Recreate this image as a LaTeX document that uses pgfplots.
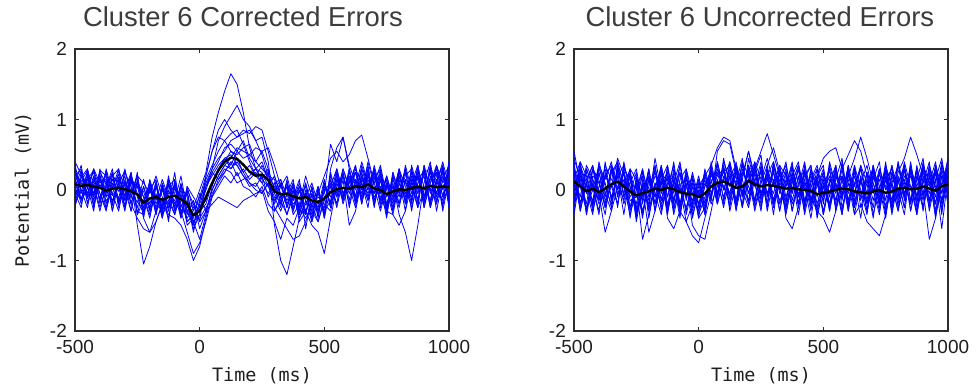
\documentclass[border=0pt]{standalone}
\usepackage{fontspec}
\setmainfont{Liberation Sans}
\newfontfamily\monofont{DejaVu Sans Mono}
\usepackage{pgfplots}
\usepackage{pgfplotstable}
\pgfplotsset{compat=1.18}

\pgfplotstableread{
t m a b c d e f g h i j k l
-500 0.08 0.25 -0.10 0.32 0.05 -0.18 0.15 0.40 -0.05 0.12 -0.22 0.20 0.02
-475 0.06 0.10 0.18 -0.05 0.28 -0.02 -0.15 0.22 0.12 -0.20 0.05 0.30 -0.12
-450 0.07 -0.08 0.30 0.15 -0.12 0.25 0.02 -0.18 0.28 0.10 0.22 -0.10 0.16
-425 0.05 0.20 -0.05 0.28 0.08 -0.22 0.30 0.05 -0.15 0.25 -0.08 0.12 -0.20
-400 0.03 -0.15 0.22 0.02 -0.25 0.18 0.10 -0.30 0.20 -0.05 0.28 -0.12 0.08
-375 -0.01 0.12 -0.20 0.25 0.05 -0.28 0.15 0.08 -0.10 -0.25 0.20 0.02 -0.15
-350 0.02 -0.22 0.10 -0.08 0.30 0.05 -0.18 0.22 0.02 0.15 -0.30 0.25 -0.05
-325 0.03 0.28 -0.12 0.05 -0.20 0.22 0.08 -0.15 0.30 -0.02 0.12 -0.25 0.18
-300 0.01 0.05 0.25 -0.22 0.12 -0.10 0.28 0.00 -0.25 0.20 -0.15 0.10 -0.08
-275 -0.02 -0.18 0.05 0.20 -0.30 0.15 -0.05 0.25 0.10 -0.20 0.02 -0.12 0.22
-250 -0.06 0.10 -0.25 -0.05 0.15 -0.50 0.20 -0.30 0.05 0.12 -0.18 0.25 -0.35
-225 -0.18 -0.30 0.05 -0.20 -0.10 -1.05 0.10 -0.35 -0.02 -0.25 0.15 -0.40 -0.15
-200 -0.12 0.02 -0.28 0.12 -0.35 -0.80 -0.05 0.15 -0.30 0.05 -0.20 -0.60 0.10
-175 -0.10 -0.25 0.10 -0.30 0.05 -0.45 0.20 -0.15 -0.05 -0.35 0.12 -0.30 -0.20
-150 -0.14 0.05 -0.35 0.00 -0.25 -0.20 -0.10 0.15 -0.40 0.08 -0.30 -0.15 0.02
-125 -0.10 -0.30 0.12 -0.20 0.10 -0.05 -0.35 -0.10 0.05 -0.25 0.20 -0.40 -0.08
-100 -0.08 0.10 -0.20 0.25 -0.30 0.05 -0.40 -0.15 0.15 0.02 -0.25 0.10 -0.35
-75 -0.13 -0.20 0.05 -0.35 0.00 -0.30 -0.50 0.20 -0.25 -0.10 0.08 -0.40 -0.05
-50 -0.20 -0.40 -0.10 0.05 -0.35 -0.15 -0.70 -0.30 0.00 -0.45 -0.20 0.05 -0.50
-25 -0.36 -0.25 -0.55 -0.30 -0.15 -0.60 -1.00 -0.20 -0.50 -0.35 -0.45 -0.10 -0.40
0 -0.30 0.00 -0.35 -0.10 -0.45 -0.20 -0.80 -0.30 -0.15 -0.40 -0.70 -0.25 -0.05
25 -0.10 0.25 0.05 0.20 -0.30 0.05 -0.40 -0.20 0.15 -0.25 -0.35 0.00 -0.30
50 0.10 0.75 0.30 0.55 0.00 0.20 -0.05 0.10 0.35 -0.10 0.05 0.25 -0.20
75 0.28 1.10 0.70 0.85 0.20 0.35 0.10 0.30 0.55 0.05 0.30 0.15 -0.10
100 0.40 1.40 0.90 1.00 0.35 0.45 0.25 0.40 0.70 0.20 0.45 0.30 -0.15
125 0.46 1.65 1.05 0.85 0.45 0.30 0.40 0.55 0.80 0.10 0.50 0.25 -0.20
150 0.44 1.50 1.20 0.75 0.60 0.40 0.20 0.50 0.85 0.25 0.35 0.10 -0.25
175 0.36 1.10 1.00 0.80 0.55 0.25 0.30 0.60 0.65 0.05 0.20 0.15 -0.15
200 0.26 0.60 0.90 0.85 0.50 0.10 0.15 0.65 0.40 0.00 0.10 0.20 -0.10
225 0.20 0.30 0.70 0.70 0.60 0.05 0.25 0.40 0.20 -0.10 0.00 0.30 -0.05
250 0.22 0.15 0.50 0.75 0.55 0.20 0.10 0.30 0.35 0.05 -0.05 0.25 0.00
275 0.14 0.05 0.20 0.40 0.30 -0.10 0.25 0.20 0.15 -0.20 0.10 0.05 -0.30
300 -0.02 -0.15 0.05 -0.30 -0.50 0.10 -0.20 0.15 -0.05 -0.30 -0.10 0.20 -0.45
325 -0.06 0.10 -0.25 -0.10 -1.00 0.15 0.05 -0.20 0.10 -0.15 -0.30 -0.05 -0.70
350 -0.05 -0.20 0.15 0.05 -1.20 -0.10 0.20 0.05 -0.25 0.10 -0.05 -0.35 -0.40
375 -0.09 0.05 -0.30 -0.20 -0.80 0.10 -0.15 -0.35 0.00 -0.25 0.15 -0.10 -0.50
400 -0.12 -0.30 0.00 -0.10 -0.40 -0.25 0.10 -0.20 -0.45 0.05 -0.35 0.15 -0.25
425 -0.10 0.10 -0.35 0.05 -0.20 -0.40 -0.15 0.20 -0.30 -0.10 0.00 -0.55 -0.05
450 -0.15 -0.25 0.05 -0.45 0.00 -0.20 -0.30 -0.10 -0.50 0.10 -0.35 -0.05 -0.20
475 -0.17 -0.05 -0.40 -0.15 -0.30 0.05 -0.45 -0.25 -0.60 -0.20 0.00 -0.35 -0.10
500 -0.12 -0.30 0.10 -0.25 0.05 -0.40 -0.10 0.15 -0.90 -0.05 -0.30 0.00 -0.20
525 -0.03 0.15 -0.20 0.20 -0.10 0.30 0.05 -0.25 -0.40 0.65 -0.15 0.10 -0.30
550 0.01 -0.10 0.25 -0.05 0.30 0.60 -0.20 0.15 0.05 0.40 0.20 -0.25 0.10
575 0.03 0.20 -0.15 0.30 -0.05 0.75 0.25 -0.10 0.20 0.75 -0.20 0.15 -0.15
600 0.02 -0.05 0.30 0.00 0.20 0.35 -0.15 0.25 -0.20 0.30 0.10 -0.50 0.15
625 0.05 0.25 -0.10 0.35 -0.20 0.10 0.30 0.05 0.15 -0.15 0.35 -0.30 0.00
650 0.04 0.00 0.35 -0.15 0.25 -0.10 0.10 0.40 -0.05 0.20 -0.20 0.15 0.30
675 0.08 0.35 0.05 0.20 -0.10 0.30 -0.15 0.10 0.40 0.00 0.25 -0.05 0.15
700 0.02 -0.15 0.30 0.10 0.25 -0.20 0.35 -0.05 0.05 0.30 -0.25 0.20 -0.10
725 0.00 0.20 -0.25 0.35 -0.05 0.15 0.00 0.30 -0.30 -0.10 0.25 -0.15 0.05
750 -0.06 -0.25 0.10 -0.10 0.20 -0.35 0.15 -0.20 0.05 -0.30 0.00 0.10 -0.40
775 -0.02 0.15 -0.30 0.05 -0.15 0.20 -0.25 0.10 -0.10 0.25 -0.35 -0.05 0.20
800 0.01 -0.10 0.20 -0.25 0.30 0.00 0.15 -0.35 0.25 -0.05 0.10 0.30 -0.20
825 0.00 0.30 -0.05 0.15 -0.20 0.25 -0.30 -0.60 0.10 0.20 -0.15 0.05 0.15
850 0.03 -0.05 0.25 -0.20 0.10 -0.15 0.35 -1.00 -0.10 0.30 0.20 -0.25 0.05
875 0.05 0.20 -0.15 0.30 -0.05 0.35 0.00 -0.50 0.25 -0.20 0.15 0.10 -0.25
900 0.02 -0.20 0.30 0.05 0.25 -0.10 0.20 0.10 -0.25 0.35 -0.15 0.30 0.00
925 0.06 0.35 0.00 -0.15 0.30 0.15 -0.25 0.40 0.10 -0.05 0.30 -0.20 0.25
950 0.04 0.05 -0.20 0.35 -0.10 0.25 0.10 -0.15 0.35 0.20 -0.30 0.15 -0.05
975 0.05 -0.15 0.35 0.10 0.20 -0.25 0.40 0.05 -0.10 0.30 0.15 -0.20 0.30
1000 0.04 0.30 -0.10 0.25 -0.20 0.40 0.05 0.20 0.15 -0.15 0.35 0.10 -0.25
}\leftdata

\pgfplotstableread{
t n o p q r s
-500 0.30 -0.25 0.10 -0.05 0.35 -0.15
-475 -0.15 0.20 0.35 -0.25 0.00 0.25
-450 0.20 -0.05 -0.20 0.30 -0.25 0.05
-425 -0.25 0.30 0.15 -0.10 0.20 -0.30
-400 0.15 -0.20 -0.05 0.25 -0.15 0.30
-375 -0.05 0.25 -0.30 0.10 0.30 -0.10
-350 0.25 -0.30 0.20 -0.15 -0.05 0.20
-325 -0.20 0.15 0.30 0.05 -0.30 0.10
-300 0.30 0.00 -0.15 -0.30 0.15 -0.25
-275 -0.10 -0.30 0.25 0.20 -0.20 0.15
-250 0.20 0.10 -0.35 -0.10 -0.40 0.05
-225 -0.40 -0.10 0.05 -0.35 -0.55 -0.30
-200 0.05 -0.40 -0.25 0.10 -0.60 0.00
-175 -0.35 0.05 0.10 -0.30 -0.45 0.15
-150 0.10 -0.25 -0.40 0.05 -0.20 -0.35
-125 -0.15 0.15 0.00 -0.45 0.10 -0.20
-100 -0.35 -0.05 -0.25 0.15 -0.30 0.05
-75 0.05 -0.40 0.10 -0.30 -0.15 -0.35
-50 -0.30 0.00 -0.45 -0.60 -0.05 -0.25
-25 -0.50 -0.20 -0.35 -0.90 -0.45 -0.15
0 -0.15 -0.45 -0.25 -0.75 -0.35 -0.55
25 0.10 0.20 -0.15 -0.45 0.05 -0.30
50 0.30 0.55 0.10 -0.10 0.25 0.00
75 0.45 0.75 0.25 0.15 0.40 0.20
100 0.55 0.70 0.45 0.25 0.60 0.35
125 0.70 0.55 0.35 0.40 0.65 0.30
150 0.75 0.45 0.55 0.35 0.55 0.45
175 0.85 0.35 0.45 0.20 0.70 0.25
200 0.80 0.25 0.50 0.05 0.45 0.35
225 0.90 0.30 0.40 0.10 0.30 0.20
250 0.85 0.15 0.55 -0.05 0.40 0.10
275 0.55 0.30 0.60 0.10 0.15 -0.05
300 0.20 0.00 0.35 -0.25 -0.05 0.10
325 -0.10 0.15 0.05 -0.40 -0.20 -0.15
350 0.05 -0.25 -0.15 -0.55 0.10 -0.35
375 -0.30 0.10 0.05 -0.70 -0.15 0.00
400 0.00 -0.35 -0.25 -0.65 0.05 -0.40
425 -0.35 -0.05 0.10 -0.45 -0.30 -0.15
450 0.05 -0.40 -0.30 -0.20 -0.05 -0.45
475 -0.30 0.00 -0.05 -0.45 -0.35 0.05
500 0.05 -0.35 0.20 -0.15 0.10 -0.40
525 -0.20 0.25 0.45 0.10 -0.25 0.05
550 0.25 -0.10 0.55 -0.20 0.15 0.30
575 -0.15 0.30 0.40 0.25 -0.10 -0.05
600 0.20 0.05 0.50 -0.25 0.30 0.10
625 -0.10 -0.25 0.70 0.15 -0.20 0.25
650 0.30 0.20 0.78 -0.10 0.10 -0.20
675 0.00 -0.15 0.45 0.30 -0.25 0.20
700 0.25 0.15 0.10 -0.20 0.30 -0.05
725 -0.20 0.30 -0.15 0.15 -0.05 0.25
750 0.10 -0.30 0.20 -0.25 0.15 -0.30
775 -0.30 0.05 -0.10 0.25 -0.20 -0.35
800 0.20 -0.20 0.30 -0.05 0.25 -0.50
825 -0.15 0.35 -0.20 0.30 -0.10 -0.30
850 0.30 0.00 0.15 -0.30 0.20 0.10
875 -0.05 0.30 -0.25 0.20 -0.15 0.35
900 0.25 -0.25 0.35 -0.10 0.30 -0.15
925 -0.20 0.20 0.00 0.35 -0.25 0.10
950 0.35 -0.05 0.25 -0.20 0.10 0.30
975 0.00 0.30 -0.30 0.25 0.35 -0.10
1000 0.25 -0.20 0.15 0.05 -0.15 0.40
}\leftextra

\pgfplotstableread{
t m a b c d e f g h i j k l
-500 0.12 0.45 -0.20 0.10 0.30 -0.35 0.25 0.55 -0.05 0.20 -0.15 0.35 0.05
-475 0.05 0.15 0.35 -0.25 0.05 0.20 -0.30 0.10 0.40 -0.10 0.25 -0.20 0.30
-450 -0.02 -0.20 0.10 0.30 -0.30 0.05 0.15 -0.25 0.20 0.35 -0.05 0.10 -0.35
-425 0.02 0.30 -0.25 0.05 0.20 -0.15 0.35 0.00 -0.30 0.15 0.30 -0.25 0.10
-400 -0.03 -0.10 0.25 -0.35 0.10 0.30 -0.05 0.35 0.05 -0.20 0.15 0.40 -0.15
-375 0.02 0.20 -0.15 0.25 -0.20 0.10 -0.60 0.15 0.30 -0.05 -0.25 0.05 0.35
-350 0.08 0.35 0.05 -0.10 0.30 -0.25 -0.30 0.40 -0.15 0.25 0.10 -0.20 0.15
-325 0.12 0.10 0.45 0.20 -0.05 0.35 0.05 -0.10 0.25 0.40 -0.20 0.30 0.00
-300 0.05 -0.15 0.20 0.35 0.15 -0.10 0.25 0.30 -0.20 0.05 0.35 -0.05 0.25
-275 -0.02 0.25 -0.30 0.05 -0.25 0.20 -0.10 0.15 0.10 -0.35 0.05 0.30 -0.15
-250 -0.08 -0.30 0.10 -0.20 0.15 -0.40 0.05 -0.25 0.30 0.00 -0.35 0.15 -0.10
-225 -0.04 0.05 -0.35 0.25 -0.10 0.15 -0.70 0.10 -0.20 0.30 -0.05 -0.30 0.20
-200 -0.02 -0.20 0.15 -0.05 0.30 -0.30 -0.35 -0.15 0.25 -0.10 0.20 0.05 -0.25
-175 0.02 0.30 -0.10 0.35 -0.20 0.10 0.05 0.45 -0.05 0.20 -0.30 0.25 0.00
-150 0.00 -0.05 0.25 -0.30 0.15 -0.20 0.30 0.00 -0.35 0.10 0.25 -0.15 0.35
-125 0.03 0.20 -0.25 0.10 0.35 0.05 -0.20 0.25 0.15 -0.30 -0.40 0.30 -0.10
-100 0.01 -0.25 0.30 0.20 -0.15 0.35 0.10 -0.30 0.05 0.25 -0.55 -0.05 0.20
-75 -0.03 0.10 -0.05 -0.35 0.25 -0.30 0.40 0.15 -0.25 0.00 -0.30 0.35 -0.20
-50 -0.05 -0.30 0.20 0.15 -0.10 -0.45 -0.15 0.30 0.10 -0.25 0.05 -0.10 0.25
-25 -0.06 0.15 -0.30 -0.05 0.20 -0.65 0.25 -0.20 -0.35 0.10 -0.15 0.20 -0.40
0 -0.10 -0.20 0.05 -0.30 -0.40 -0.75 -0.10 0.15 -0.05 -0.35 0.20 -0.25 0.00
25 -0.05 0.10 0.20 0.05 -0.25 -0.40 0.15 -0.30 0.25 -0.10 -0.20 0.30 -0.35
50 0.05 -0.10 0.35 0.25 0.10 -0.05 -0.20 0.30 -0.15 0.20 0.40 -0.05 0.15
75 0.10 0.30 0.60 -0.10 0.35 0.20 0.05 -0.15 0.40 0.10 -0.05 0.25 -0.20
100 0.12 0.05 0.75 0.40 -0.15 0.30 0.25 0.45 0.00 -0.20 0.35 -0.10 0.20
125 0.08 -0.20 0.70 0.15 0.30 -0.10 0.35 0.05 0.25 0.40 -0.25 0.20 -0.05
150 0.03 0.25 0.30 -0.25 0.10 0.35 -0.15 0.20 -0.30 0.05 0.30 -0.20 0.40
175 0.05 -0.05 0.15 0.30 -0.20 0.05 0.40 -0.25 0.15 0.35 -0.10 0.25 0.00
200 0.13 0.30 -0.20 0.05 0.45 -0.15 0.20 0.35 0.55 -0.05 0.25 0.10 -0.25
225 0.08 0.30 0.25 -0.15 0.10 0.40 -0.30 0.05 0.20 0.30 -0.20 0.35 0.15
250 0.05 0.55 -0.10 0.35 -0.25 0.15 0.10 0.40 -0.20 -0.05 0.30 -0.15 0.25
275 0.07 0.80 0.20 -0.05 0.30 -0.20 0.35 -0.10 0.15 0.25 -0.30 0.20 -0.05
300 0.06 0.50 -0.25 0.25 0.05 0.35 -0.15 0.30 -0.05 -0.20 0.15 0.40 0.10
325 0.04 0.20 0.15 -0.20 0.35 -0.05 0.25 -0.30 0.30 0.10 -0.15 0.05 0.35
350 0.02 -0.15 0.35 0.10 -0.10 0.25 -0.25 0.15 -0.20 0.40 0.05 -0.30 0.20
375 0.03 0.25 -0.05 0.35 0.20 -0.30 0.15 0.00 0.35 -0.15 0.30 0.10 -0.20
400 0.01 -0.20 0.30 -0.10 0.40 0.10 -0.05 0.30 -0.25 0.20 -0.10 0.35 0.05
425 0.00 0.35 -0.20 0.15 -0.15 0.30 0.20 -0.25 0.10 -0.30 0.25 0.00 0.40
450 -0.01 0.00 0.25 -0.30 0.10 -0.20 0.35 0.15 -0.10 0.30 -0.25 0.20 -0.15
475 -0.06 -0.25 0.10 0.20 -0.35 0.15 -0.10 0.35 -0.30 0.05 0.20 -0.20 0.30
500 -0.04 0.20 -0.30 0.45 0.05 -0.15 0.25 -0.05 -0.40 0.25 -0.35 0.15 -0.10
525 -0.02 -0.10 0.15 0.55 -0.25 0.30 -0.20 0.20 -0.60 -0.05 0.10 -0.30 0.35
550 0.00 0.30 -0.05 0.60 0.20 -0.30 0.10 -0.15 -0.30 0.35 -0.20 0.25 0.00
575 0.02 -0.05 0.35 0.30 -0.10 0.20 -0.35 0.30 0.05 -0.25 0.40 -0.10 0.20
600 0.01 0.25 -0.20 0.50 0.30 -0.05 0.20 -0.30 0.15 0.10 -0.15 0.35 -0.25
625 -0.02 -0.20 0.10 0.70 -0.15 0.35 0.05 0.20 -0.25 -0.35 0.25 -0.05 0.30
650 -0.03 0.15 0.30 0.55 0.10 -0.25 0.35 -0.10 0.20 -0.20 -0.05 0.30 -0.15
675 -0.05 -0.30 -0.05 0.20 0.35 0.10 -0.20 0.25 -0.30 -0.45 0.15 -0.15 0.25
700 -0.02 0.20 0.35 -0.15 -0.05 0.30 0.15 -0.35 0.10 -0.55 -0.25 0.35 0.00
725 0.00 -0.10 -0.20 0.25 0.30 -0.15 0.40 0.05 -0.20 -0.65 0.30 -0.25 0.15
750 -0.04 0.30 0.15 -0.30 0.05 0.35 -0.25 0.20 0.30 -0.35 0.00 0.15 -0.35
775 -0.02 -0.25 0.30 0.10 -0.20 0.05 0.25 -0.30 -0.05 0.20 0.35 -0.20 0.10
800 0.02 0.10 -0.15 0.35 0.25 -0.30 0.00 0.35 0.15 -0.10 -0.25 0.40 -0.20
825 0.03 0.35 0.20 -0.10 0.45 0.15 -0.35 0.10 -0.25 0.30 0.05 -0.15 0.30
850 0.01 -0.15 0.05 0.30 0.75 -0.20 0.30 -0.20 0.35 0.00 0.25 0.20 -0.30
875 0.02 0.20 -0.30 0.05 0.50 0.35 -0.10 0.30 -0.15 0.25 -0.35 0.05 0.20
900 0.05 -0.05 0.35 -0.25 0.20 -0.10 0.40 0.00 0.25 -0.30 0.15 0.35 -0.15
925 0.02 0.30 0.10 0.35 -0.15 0.25 -0.20 -0.70 0.05 0.20 -0.25 0.10 0.35
950 -0.01 -0.20 0.40 0.00 0.30 -0.35 0.15 -0.40 0.30 -0.10 0.35 -0.20 0.05
975 0.05 0.35 -0.15 0.25 -0.05 0.20 0.45 0.10 -0.30 0.40 0.05 0.30 -0.25
1000 0.08 0.05 0.30 -0.20 0.40 0.10 -0.10 0.35 0.20 -0.15 0.45 -0.05 0.30
}\rightdata

\pgfplotstableread{
t n o p q r s
-500 -0.30 0.35 0.15 -0.20 0.40 -0.05
-475 0.35 -0.20 0.40 0.15 -0.30 0.25
-450 0.00 0.30 -0.35 0.25 0.10 -0.30
-425 -0.35 0.05 0.30 -0.20 0.35 0.15
-400 0.25 -0.30 0.10 0.35 -0.15 0.00
-375 -0.10 0.40 -0.25 -0.05 0.20 -0.35
-350 0.30 -0.15 0.35 -0.30 0.05 0.25
-325 -0.25 0.20 0.00 0.40 -0.20 0.35
-300 0.40 -0.35 0.25 0.05 0.30 -0.10
-275 -0.05 0.25 -0.40 0.30 -0.25 0.20
-250 0.25 -0.10 0.20 -0.35 0.10 -0.45
-225 -0.35 0.30 -0.15 0.10 -0.40 0.05
-200 0.15 -0.40 0.30 -0.25 0.20 -0.60
-175 -0.20 0.10 -0.30 0.35 -0.10 -0.30
-150 0.35 -0.25 0.15 -0.15 0.30 0.10
-125 -0.30 0.35 -0.10 0.20 -0.35 0.25
-100 0.10 -0.15 0.40 -0.35 0.15 -0.20
-75 -0.40 0.25 -0.20 0.05 -0.25 0.35
-50 0.20 -0.35 0.10 -0.45 0.30 -0.10
-25 -0.25 0.05 -0.50 -0.20 -0.05 0.20
0 0.10 -0.40 -0.65 0.15 -0.30 -0.20
25 -0.35 0.20 -0.70 -0.25 0.25 0.05
50 0.25 -0.10 -0.30 0.35 -0.15 0.30
75 -0.05 0.40 0.15 -0.10 0.55 -0.20
100 0.35 0.00 -0.25 0.30 0.70 0.15
125 -0.15 0.35 0.20 -0.30 0.65 0.40
150 0.30 -0.20 0.35 0.10 0.25 -0.25
175 -0.25 0.40 -0.10 0.45 -0.05 0.20
200 0.15 -0.05 0.30 -0.20 0.35 0.55
225 0.40 0.25 -0.25 0.35 -0.15 0.10
250 -0.10 0.50 0.15 -0.05 0.30 -0.30
275 0.30 -0.25 0.45 0.20 -0.20 0.35
300 -0.20 0.35 0.10 -0.35 0.40 0.60
325 0.25 0.05 -0.30 0.30 0.00 0.25
350 -0.35 0.30 0.25 0.05 -0.25 -0.40
375 0.10 -0.30 -0.05 0.40 0.20 -0.55
400 0.35 0.20 0.30 -0.20 -0.35 -0.25
425 -0.20 -0.35 0.05 0.25 0.15 0.30
450 0.30 0.10 -0.40 -0.05 0.35 -0.15
475 -0.40 0.30 0.15 0.20 -0.30 0.05
500 0.05 -0.20 -0.35 0.35 0.10 0.30
525 0.30 0.40 0.10 -0.30 -0.20 -0.25
550 -0.25 0.05 0.35 0.15 0.30 0.10
575 0.15 -0.35 -0.15 0.45 -0.10 -0.30
600 -0.30 0.25 0.30 -0.20 0.35 0.20
625 0.35 -0.10 -0.25 0.10 -0.35 0.45
650 0.00 0.35 0.20 -0.40 0.15 0.75
675 -0.35 0.10 -0.30 0.25 -0.20 0.45
700 0.25 -0.40 0.35 0.00 0.30 0.10
725 -0.15 0.25 -0.05 -0.35 0.05 -0.30
750 0.40 -0.15 0.25 0.30 -0.40 0.20
775 -0.30 0.35 -0.35 0.10 0.25 -0.15
800 0.20 -0.05 0.15 -0.30 -0.10 0.40
825 -0.10 0.30 -0.25 0.35 0.40 -0.05
850 0.35 -0.30 0.40 -0.15 0.05 0.25
875 -0.25 0.15 -0.10 0.30 -0.35 -0.20
900 0.10 0.45 0.30 -0.25 0.20 0.35
925 0.40 -0.20 -0.15 0.20 -0.05 -0.30
950 -0.30 0.25 0.35 -0.40 0.30 0.15
975 0.20 -0.35 -0.05 0.35 -0.20 -0.55
1000 -0.05 0.40 0.30 0.10 0.45 0.20
}\rightextra

\definecolor{framecol}{RGB}{45,45,45}
\definecolor{titlecol}{RGB}{60,60,60}
\definecolor{tickcol}{RGB}{30,30,30}

\pgfplotsset{
  erpstyle/.style={
    scale only axis, width=374bp, height=282bp,
    xmin=-500, xmax=1000, ymin=-2, ymax=2,
    xtick={-500,0,500,1000}, xticklabels={-500,0,500,1000},
    ytick={-2,-1,0,1,2}, yticklabels={-2,-1,0,1,2},
    tick align=inside, major tick length=4bp,
    axis line style={draw=framecol, line width=1.1pt},
    tick style={draw=framecol, line width=0.8pt},
    xticklabel style={font=\fontsize{19}{20}\selectfont, text=tickcol, anchor=north, inner sep=0pt, yshift=-9bp},
    yticklabel style={font=\fontsize{19}{20}\selectfont, text=tickcol, anchor=east, inner sep=0pt, xshift=-8bp},
    title style={font=\fontsize{27.5}{30}\selectfont, text=titlecol, anchor=base, inner sep=0pt},
    xlabel style={font=\monofont\fontsize{18.5}{20}\selectfont, text=tickcol, at={(axis description cs:0.5,-0.179)}, anchor=base, inner sep=0pt},
    ylabel style={font=\monofont\fontsize{18.5}{20}\selectfont, text=tickcol, at={(axis description cs:-0.123,0.5)}, anchor=base, inner sep=0pt},
    trace/.style={draw=blue, line width=0.8pt, line join=round},
    meanline/.style={draw=black, line width=2.4pt, line join=round},
  }
}

\begin{document}
\begin{tikzpicture}
\useasboundingbox (0,0) rectangle (979bp,392bp);
\begin{axis}[erpstyle, at={(75bp,61bp)}, anchor=south west,
  title={Cluster 6 Corrected Errors},
  title style={at={(axis description cs:0.449,1.06)}},
  xlabel={Time (ms)}, ylabel={Potential (mV)}]
\pgfplotsinvokeforeach{a,b,c,d,e,f,g,h,i,j,k,l}{
  \addplot[trace] table[x=t,y=#1]{\leftdata};
}
\pgfplotsinvokeforeach{n,o,p,q,r,s}{
  \addplot[trace] table[x=t,y=#1]{\leftextra};
}
\addplot[meanline] table[x=t,y=m]{\leftdata};
\end{axis}
\begin{axis}[erpstyle, at={(574bp,61bp)}, anchor=south west,
  title={Cluster 6 Uncorrected Errors},
  title style={at={(axis description cs:0.497,1.06)}},
  xlabel={Time (ms)}]
\pgfplotsinvokeforeach{a,b,c,d,e,f,g,h,i,j,k,l}{
  \addplot[trace] table[x=t,y=#1]{\rightdata};
}
\pgfplotsinvokeforeach{n,o,p,q,r,s}{
  \addplot[trace] table[x=t,y=#1]{\rightextra};
}
\addplot[meanline] table[x=t,y=m]{\rightdata};
\end{axis}
\end{tikzpicture}
\end{document}
